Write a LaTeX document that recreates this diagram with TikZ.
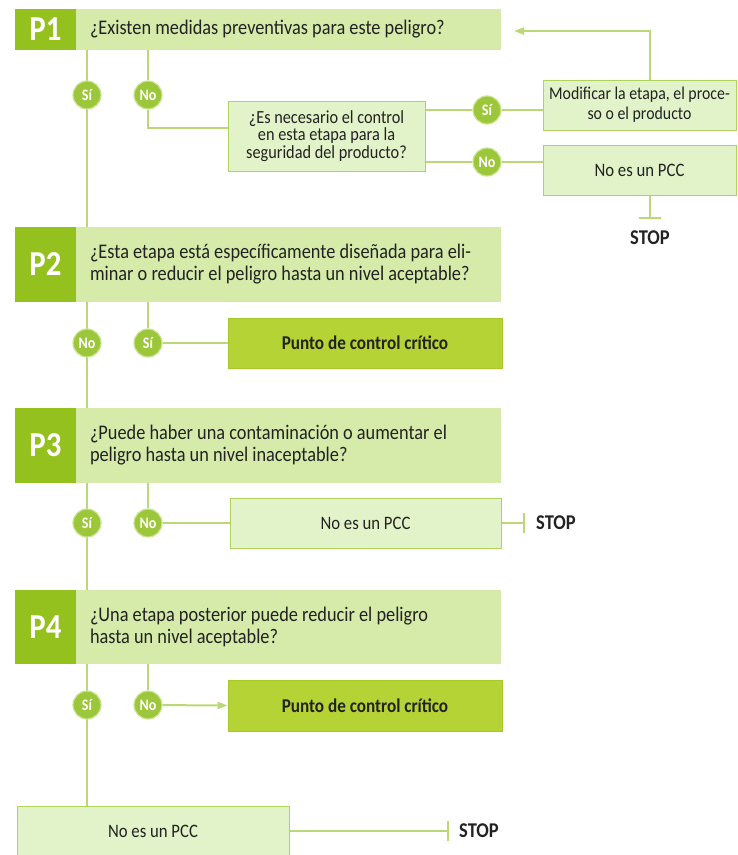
\documentclass[tikz,border=0pt]{standalone}
\usepackage{fontspec}
\setmainfont{Carlito}[FakeStretch=0.88]
\usetikzlibrary{arrows.meta,backgrounds,calc}
\definecolor{pdark}{HTML}{95C11F}
\definecolor{qlight}{HTML}{D6EBAA}
\definecolor{blight}{HTML}{E3F3C9}
\definecolor{bedge}{HTML}{B0D35E}
\definecolor{pccfill}{HTML}{B5D334}
\definecolor{pccedge}{HTML}{A6C82A}
\definecolor{linec}{HTML}{BBD876}
\definecolor{cfill}{HTML}{9DC73A}
\definecolor{cring}{HTML}{CBE494}
\definecolor{txt}{HTML}{222222}
\begin{document}
\begin{tikzpicture}[x=1pt,y=-1pt,
  pbox/.style={fill=pdark, text=white, font=\bfseries\fontsize{35}{35}\selectfont,
    minimum width=61pt, inner sep=0pt},
  qbar/.style={fill=qlight, text=txt, inner xsep=14pt, inner ysep=0pt, align=flush left,
    text width=397pt, font=\fontsize{20.8}{22}\selectfont},
  yn/.style={circle, fill=cfill, draw=cring, line width=1.2pt, minimum size=28pt,
    inner sep=0pt, text=white, font=\bfseries\fontsize{16}{16}\selectfont},
  lbox/.style={fill=blight, draw=bedge, line width=1pt, inner sep=2pt, text=txt,
    align=center, font=\fontsize{19}{20}\selectfont},
  pccbox/.style={fill=pccfill, draw=pccedge, line width=0.8pt, inner sep=2pt, text=txt,
    font=\bfseries\fontsize{19.5}{20}\selectfont},
  stopt/.style={text=txt, inner sep=0pt, font=\bfseries\fontsize{21}{21}\selectfont},
  conn/.style={draw=linec, line width=2pt},
  tip/.style={-{Triangle[length=10pt,width=7pt]}}
]
\useasboundingbox (0,0) rectangle (738,855);

% P1
\node[pbox, minimum height=41pt] (p1) at (45.5,29.5) {P1};
\node[qbar, minimum height=41pt] (q1) at (288.5,29.5) {¿Existen medidas preventivas para este peligro?};
\node[yn] (si1) at (87,95) {Sí};
\node[yn] (no1) at (148,95) {No};
\node[lbox, minimum width=197pt, minimum height=70pt, font=\fontsize{18.5}{17.5}\selectfont] (qbox) at (326.5,136)
  {¿Es necesario el control\\en esta etapa para la\\seguridad del producto?};
\node[yn] (si5) at (487,110) {Sí};
\node[yn] (no5) at (487,162) {No};
\node[lbox, minimum width=193pt, minimum height=50pt, font=\fontsize{18}{20}\selectfont] (mod) at (639.5,105)
  {Modificar la etapa, el proce-\\so o el producto};
\node[lbox, minimum width=193pt, minimum height=50pt] (npcc1) at (639.5,170) {No es un PCC};
\coordinate (t1) at (650,218);
\coordinate (a1) at (514,31);
\coordinate (nk) at (148,128);
\node[stopt] (stop1) at (650,238) {STOP};

% P2
\node[pbox, minimum height=75pt] (p2) at (45.5,264.5) {P2};
\node[qbar, minimum height=75pt] (q2) at (288.5,264.5)
  {¿Esta etapa está específicamente diseñada para eli-\\minar o reducir el peligro hasta un nivel aceptable?};
\node[yn] (no2) at (87,343) {No};
\node[yn] (si2) at (148,343) {Sí};
\node[pccbox, minimum width=274pt, minimum height=50pt] (pcc2) at (365,343) {Punto de control crítico};

% P3
\node[pbox, minimum height=75pt] (p3) at (45.5,445.5) {P3};
\node[qbar, minimum height=75pt] (q3) at (288.5,445.5)
  {¿Puede haber una contaminación o aumentar el\\peligro hasta un nivel inaceptable?};
\node[yn] (si3) at (87,523) {Sí};
\node[yn] (no3) at (148,523) {No};
\node[lbox, minimum width=271pt, minimum height=50pt] (npcc3) at (365.5,523) {No es un PCC};
\coordinate (t3) at (524,523);
\node[stopt, anchor=west] (stop3) at (536,523) {STOP};

% P4
\node[pbox, minimum height=74pt] (p4) at (45.5,627) {P4};
\node[qbar, minimum height=74pt] (q4) at (288.5,627)
  {¿Una etapa posterior puede reducir el peligro\\hasta un nivel aceptable?};
\node[yn] (si4) at (87,705) {Sí};
\node[yn] (no4) at (148,705) {No};
\node[pccbox, minimum width=274pt, minimum height=51pt] (pcc4) at (365,705.5) {Punto de control crítico};

% bottom
\node[lbox, minimum width=272pt, minimum height=50pt] (npcc5) at (153,831) {No es un PCC};
\coordinate (t5) at (448,831);
\node[stopt, anchor=west] (stop5) at (459,831) {STOP};

\begin{scope}[on background layer]
  % trunk
  \draw[conn] (si1 |- q1.south) -- (si1 |- q2.north);
  \draw[conn] (no2 |- q2.south) -- (no2 |- q3.north);
  \draw[conn] (si3 |- q3.south) -- (si3 |- q4.north);
  \draw[conn] (si4 |- q4.south) -- (si4 |- npcc5.north);
  % P1 branch
  \draw[conn] (no1 |- q1.south) -- (no1) -- (nk) -- (nk -| qbox.west);
  \draw[conn] (si5 -| qbox.east) -- (si5) -- (si5 -| mod.west);
  \draw[conn] (no5 -| qbox.east) -- (no5) -- (no5 -| npcc1.west);
  \draw[conn] (t1 |- npcc1.south) -- (t1);
  \draw[conn] ([xshift=-11pt]t1) -- ([xshift=11pt]t1);
  \draw[conn, tip] (t1 |- mod.north) |- (a1);
  % P2
  \draw[conn] (si2 |- q2.south) -- (si2) -- (pcc2.west);
  % P3
  \draw[conn] (no3 |- q3.south) -- (no3) -- (npcc3.west);
  \draw[conn] (npcc3.east) -- (t3);
  \draw[conn] ([yshift=-10pt]t3) -- ([yshift=10pt]t3);
  % P4
  \draw[conn] (no4 |- q4.south) -- (no4);
  \draw[conn, tip] (no4) -- (pcc4.west);
  % bottom
  \draw[conn] (npcc5.east) -- (t5);
  \draw[conn] ([yshift=-10pt]t5) -- ([yshift=10pt]t5);
\end{scope}
\end{tikzpicture}
\end{document}
